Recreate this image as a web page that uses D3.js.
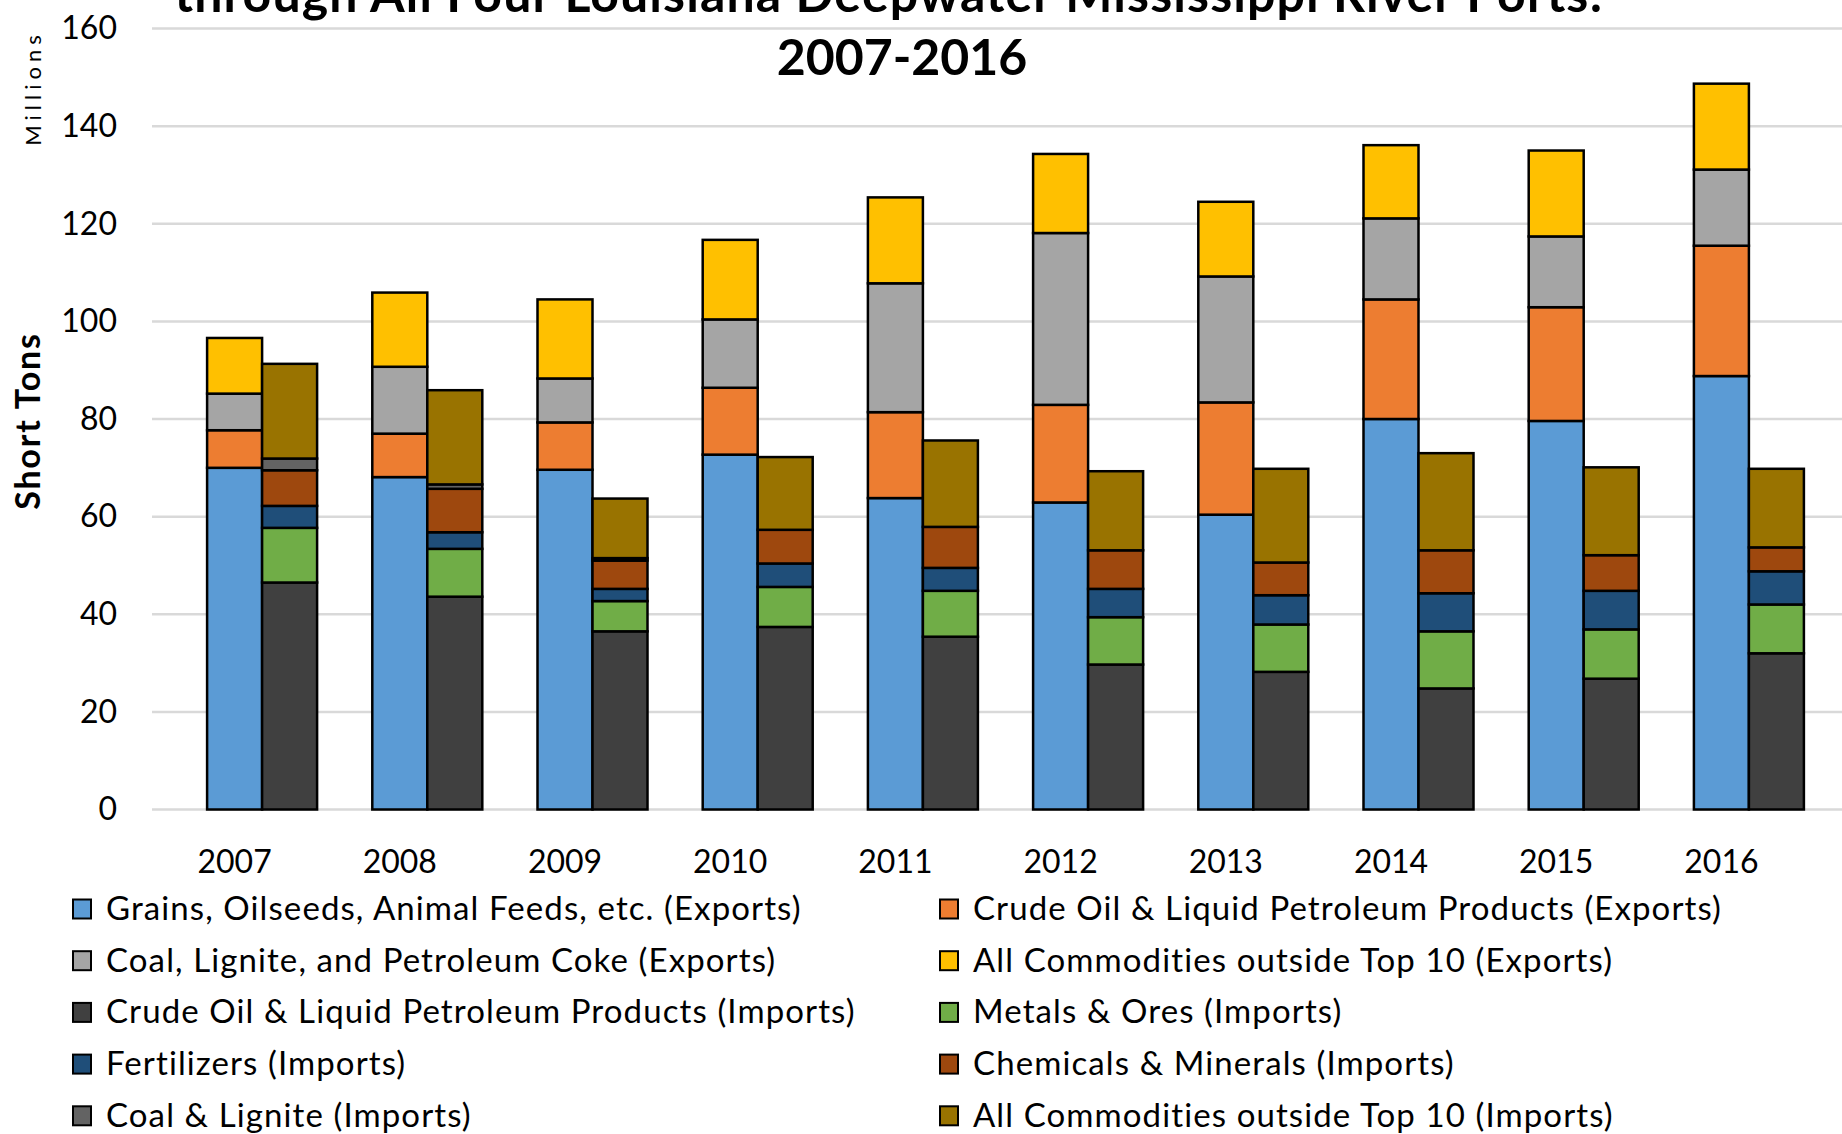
<html>
<head>
<script src="https://d3js.org/d3.v7.min.js"></script>
<style>
  body { margin: 0; background: #fff; }
  text { font-family: Lato, "Open Sans", sans-serif; fill: #000; }
</style>
</head>
<body>
<script>
// data (millions of short tons)
var years = ["2007","2008","2009","2010","2011","2012","2013","2014","2015","2016"];

var grainsExp   = [70.0, 68.1, 69.6, 72.7, 63.8, 62.9, 60.4, 80.0, 79.6, 88.8];
var crudeExp    = [ 7.7,  8.9,  9.7, 13.7, 17.6, 20.0, 23.0, 24.5, 23.3, 26.7];
var coalExp     = [ 7.5, 13.7,  9.0, 14.0, 26.4, 35.2, 25.8, 16.6, 14.5, 15.6];
var otherExp    = [11.4, 15.2, 16.2, 16.3, 17.6, 16.2, 15.3, 15.0, 17.6, 17.6];

var crudeImp    = [46.5, 43.6, 36.5, 37.4, 35.4, 29.7, 28.2, 24.8, 26.8, 32.0];
var metalsImp   = [11.2,  9.8,  6.2,  8.2,  9.4,  9.7,  9.7, 11.7, 10.1, 10.0];
var fertImp     = [ 4.5,  3.4,  2.5,  4.8,  4.7,  5.8,  6.0,  7.8,  7.9,  6.8];
var chemImp     = [ 7.3,  8.9,  5.8,  6.9,  8.4,  7.9,  6.7,  8.8,  7.3,  4.9];
var coalImp     = [ 2.4,  0.9,  0.5,  0.0,  0.0,  0.0,  0.0,  0.0,  0.0,  0.0];
var otherImp    = [19.4, 19.3, 12.2, 14.9, 17.7, 16.2, 19.2, 19.9, 18.0, 16.1];

var yTicks = [0, 20, 40, 60, 80, 100, 120, 140, 160];

var series = [
  {key: "grainsExp", name: "Grains, Oilseeds, Animal Feeds, etc. (Exports)", color: "#5b9bd5", values: grainsExp, side: "exp"},
  {key: "crudeExp",  name: "Crude Oil & Liquid Petroleum Products (Exports)", color: "#ed7d31", values: crudeExp, side: "exp"},
  {key: "coalExp",   name: "Coal, Lignite, and Petroleum Coke (Exports)", color: "#a5a5a5", values: coalExp, side: "exp"},
  {key: "otherExp",  name: "All Commodities outside Top 10 (Exports)", color: "#ffc000", values: otherExp, side: "exp"},
  {key: "crudeImp",  name: "Crude Oil & Liquid Petroleum Products (Imports)", color: "#404040", values: crudeImp, side: "imp"},
  {key: "metalsImp", name: "Metals & Ores (Imports)", color: "#70ad47", values: metalsImp, side: "imp"},
  {key: "fertImp",   name: "Fertilizers (Imports)", color: "#1f4e79", values: fertImp, side: "imp"},
  {key: "chemImp",   name: "Chemicals & Minerals (Imports)", color: "#9e480e", values: chemImp, side: "imp"},
  {key: "coalImp",   name: "Coal & Lignite (Imports)", color: "#636363", values: coalImp, side: "imp"},
  {key: "otherImp",  name: "All Commodities outside Top 10 (Imports)", color: "#997300", values: otherImp, side: "imp"}
];

var width = 1842, height = 1134;
var plotLeft = 152, plotRight = 1804, gridRight = 1842;

var svg = d3.select("body").append("svg")
    .attr("width", width)
    .attr("height", height);

var x = d3.scaleBand().domain(years).range([plotLeft, plotRight]);
var y = d3.scaleLinear().domain([0, 160]).range([809.5, 28.5]);
var barW = 55;

// gridlines
svg.append("g").selectAll("line")
    .data(yTicks).enter()
    .append("line")
    .attr("x1", plotLeft).attr("x2", gridRight)
    .attr("y1", d => y(d)).attr("y2", d => y(d))
    .attr("stroke", "#d9d9d9")
    .attr("stroke-width", 2.5);

// y axis labels
var yAxis = svg.append("g")
    .attr("transform", "translate(120,0)")
    .call(d3.axisLeft(y).tickValues(yTicks).tickSize(0).tickPadding(3));
yAxis.select(".domain").remove();
yAxis.selectAll("text")
    .style("font-family", "Lato, sans-serif")
    .style("font-size", "32px")
    .attr("fill", "#000");

// titles (top line runs off the top edge, as in the source image)
svg.append("text")
    .attr("x", 889).attr("y", 12)
    .attr("text-anchor", "middle")
    .attr("font-weight", "bold")
    .attr("font-size", 50)
    .attr("letter-spacing", 1.1)
    .text("through All Four Louisiana Deepwater Mississippi River Ports:");
svg.append("text")
    .attr("x", 902).attr("y", 75)
    .attr("text-anchor", "middle")
    .attr("font-weight", "bold")
    .attr("font-size", 50)
    .text("2007-2016");

// axis titles
svg.append("text")
    .attr("transform", "translate(41,88) rotate(-90)")
    .attr("text-anchor", "middle")
    .attr("font-size", 22)
    .attr("letter-spacing", 5)
    .text("Millions");
svg.append("text")
    .attr("transform", "translate(40,421) rotate(-90)")
    .attr("text-anchor", "middle")
    .attr("font-weight", "bold")
    .attr("font-size", 34)
    .attr("letter-spacing", 1.8)
    .text("Short Tons");

// stacked bars
var rows = years.map((yr, i) => {
  var r = {year: yr};
  series.forEach(s => r[s.key] = s.values[i]);
  return r;
});

function drawStack(side, offset) {
  var ss = series.filter(s => s.side === side);
  var stacked = d3.stack().keys(ss.map(s => s.key))(rows);
  stacked.forEach((layer, li) => {
    svg.append("g")
      .attr("fill", ss[li].color)
      .selectAll("rect")
      .data(layer).enter()
      .append("rect")
      .attr("x", d => x(d.data.year) + x.bandwidth() / 2 + offset)
      .attr("width", barW)
      .attr("y", d => y(d[1]))
      .attr("height", d => y(d[0]) - y(d[1]))
      .attr("stroke", "#000")
      .attr("stroke-width", d => (d[1] - d[0]) > 0 ? 2.5 : 0);
  });
}
drawStack("exp", -barW / 2);
drawStack("imp", barW / 2);

// x labels
svg.append("g").selectAll("text")
    .data(years).enter()
    .append("text")
    .attr("x", d => x(d) + x.bandwidth() / 2)
    .attr("y", 873)
    .attr("text-anchor", "middle")
    .attr("font-size", 32)
    .text(d => d);

// legend
var legend = svg.append("g").selectAll("g")
    .data(series).enter()
    .append("g")
    .attr("transform", (d, i) => "translate(" + (i % 2 === 0 ? 73 : 940) + "," + (909 + Math.floor(i / 2) * 51.7) + ")");
legend.append("rect")
    .attr("x", 0).attr("y", -9.5)
    .attr("width", 18).attr("height", 19)
    .attr("fill", d => d.color)
    .attr("stroke", "#000")
    .attr("stroke-width", 2);
legend.append("text")
    .attr("x", 33).attr("y", 11)
    .attr("font-size", 33)
    .attr("letter-spacing", 1.1)
    .text(d => d.name);
</script>
</body>
</html>
